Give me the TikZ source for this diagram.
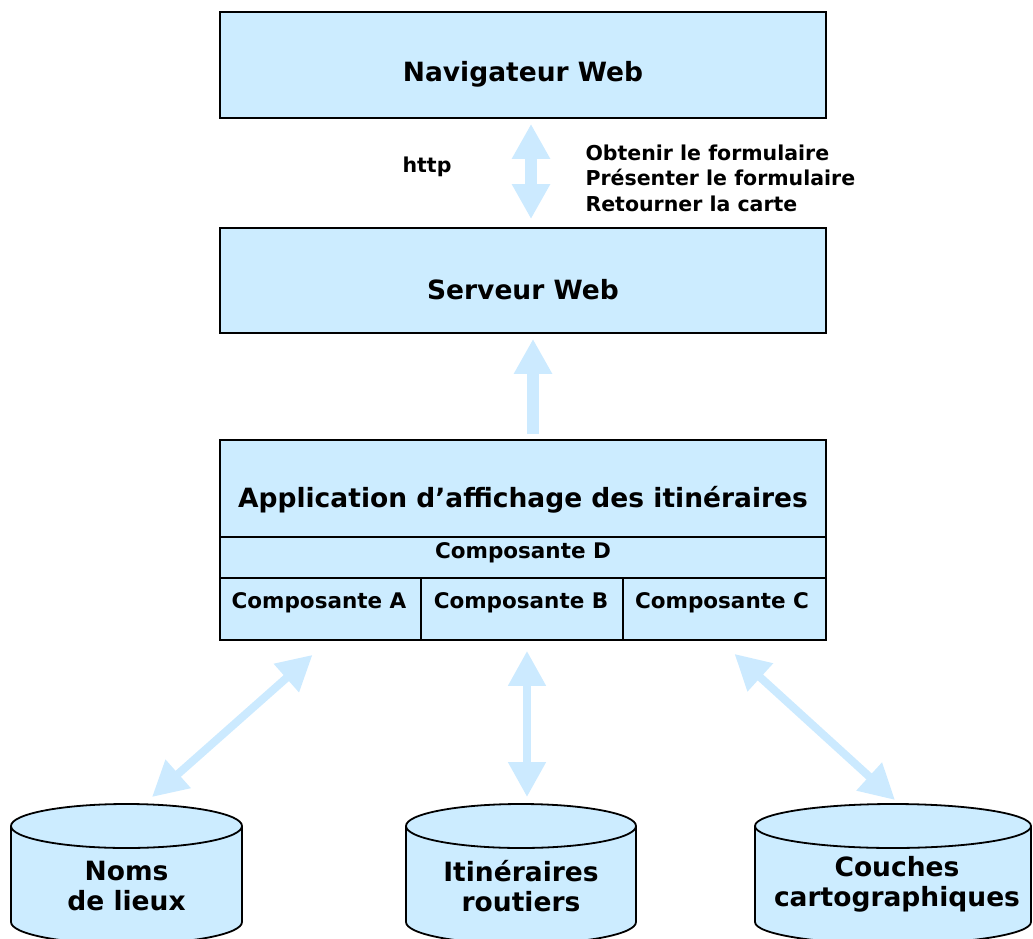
\documentclass[tikz,border=0pt]{standalone}
\usepackage{fontspec}
\setmainfont{DejaVu Sans}
\usetikzlibrary{arrows.meta}
\definecolor{boxblue}{RGB}{204,236,255}
\definecolor{flowblue}{RGB}{204,234,255}
\tikzset{
  box/.style={draw=black, line width=1.8pt, fill=boxblue, inner sep=0pt},
  head/.style={font=\fontsize{26.5}{30}\selectfont\bfseries},
  small/.style={font=\fontsize{20.5}{25.5}\selectfont\bfseries},
  comp/.style={font=\fontsize{21.5}{25}\selectfont\bfseries},
  bigtip/.tip={Triangle[length=35pt,width=36pt]},
  thickflow/.style={draw=flowblue, line width=12pt, bigtip-bigtip},
  upflow/.style={draw=flowblue, line width=12pt, -bigtip},
  thinflow/.style={draw=flowblue, line width=8pt, bigtip-bigtip},
}
\newcommand{\dbdrum}[2]{% center x, half width
  \filldraw[draw=black, line width=1.8pt, fill=boxblue]
    (#1-#2,-826) -- (#1-#2,-922) arc (180:360:#2 and 22) -- (#1+#2,-826)
    arc (0:180:#2 and 22) -- cycle;
  \draw[line width=1.8pt] (#1-#2,-826) arc (180:360:#2 and 22);
}
\begin{document}
\begin{tikzpicture}[x=1pt,y=1pt]
    \useasboundingbox (0,0) rectangle (1033,-939);
    \clip (0,0) rectangle (1033,-939);

    \node[box, minimum width=606pt, minimum height=106pt] (nav) at (523,-65) {};
    \node[head] (navtxt) at (523,-74) {Navigateur Web};

    \node[box, minimum width=606pt, minimum height=105pt] (srv) at (523,-280.5) {};
    \node[head] (srvtxt) at (523,-290) {Serveur Web};

    \node[box, minimum width=606pt, minimum height=97pt] (app) at (523,-488.5) {};
    \node[head] (apptxt) at (523,-500) {Application d’affichage des itinéraires};
    \node[box, minimum width=606pt, minimum height=41pt] (compD) at (523,-557.5) {};
    \node[comp] at (523,-553) {Composante D};
    \node[box, minimum width=201pt, minimum height=62pt] (compA) at (320.5,-609) {};
    \node[box, minimum width=202pt, minimum height=62pt] (compB) at (522,-609) {};
    \node[box, minimum width=203pt, minimum height=62pt] (compC) at (724.5,-609) {};
    \node[comp] at (319,-603) {Composante A};
    \node[comp] at (521,-603) {Composante B};
    \node[comp] at (722,-603) {Composante C};

    \node[small] (http) at (427,-167) {http};
    \node[small, align=left, anchor=west] (msgs) at (582,-178)
      {Obtenir le formulaire\\Présenter le formulaire\\Retourner la carte};

    \draw[thickflow, shorten <=5pt, shorten >=8pt] ([xshift=8pt]nav.south) -- ([xshift=8pt]srv.north);
    \draw[upflow, shorten <=5pt, shorten >=5pt] ([xshift=10pt]app.north) -- ([xshift=10pt]srv.south);

    \dbdrum{126.5}{115.5}
    \dbdrum{521}{115}
    \dbdrum{893}{138}
    \node[head, align=center] (noms) at (126.5,-886) {Noms\\de lieux};
    \node[head, align=center] (itin) at (521,-886) {Itinéraires\\routiers};
    \node[head, align=center] (couches) at (897,-884) {Couches\\cartographiques};

    \coordinate (nomsTop) at (152,-797);
    \coordinate (itinTop) at (527,-797);
    \coordinate (couchesTop) at (895,-800);

    \draw[thinflow] ([shift={(-8,-14)}]compA.south) -- (nomsTop);
    \draw[thinflow] ([shift={(5,-10)}]compB.south) -- (itinTop);
    \draw[thinflow] ([shift={(10,-13)}]compC.south) -- (couchesTop);
\end{tikzpicture}
\end{document}
